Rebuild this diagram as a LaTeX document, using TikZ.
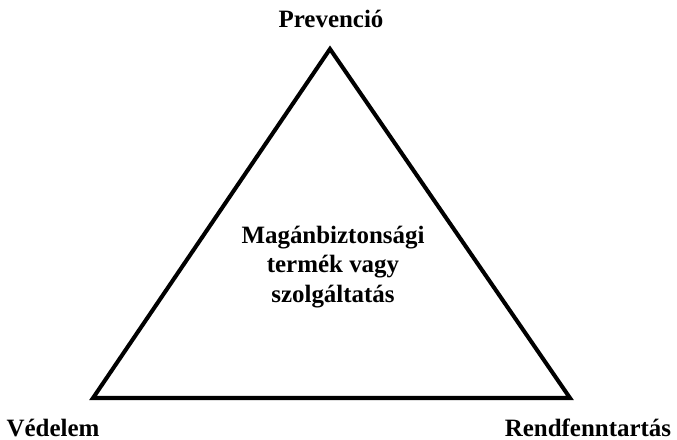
\documentclass[tikz,border=0pt]{standalone}
\usepackage{fontspec}
\setmainfont{Liberation Serif}
\usetikzlibrary{positioning}

\begin{document}
\begin{tikzpicture}[
    x=0.02cm, y=-0.02cm,
    corner_label/.style={font=\fontsize{14.2}{16}\selectfont\bfseries, inner sep=1pt},
    center_text/.style={font=\fontsize{14.2}{17}\selectfont\bfseries, align=center, inner sep=1pt},
    side/.style={line width=2.3pt, line join=miter, draw=black}
]
    \useasboundingbox (0,0) rectangle (677,440);

    % Triangle corners
    \coordinate (apex) at (330,49);
    \coordinate (left_corner) at (93,398);
    \coordinate (right_corner) at (570,398);

    % The triangle itself
    \draw[side] (apex) -- (right_corner) -- (left_corner) -- cycle;

    % Corner labels
    \node[corner_label] (prevencio) at (331,19) {Prevenció};
    \node[corner_label] (vedelem) at (53,428) {Védelem};
    \node[corner_label] (rendfenntartas) at (588,428) {Rendfenntartás};

    % Text in the middle
    \node[center_text] (termek) at (333,267) {Magánbiztonsági\\termék vagy\\szolgáltatás};

\end{tikzpicture}
\end{document}
